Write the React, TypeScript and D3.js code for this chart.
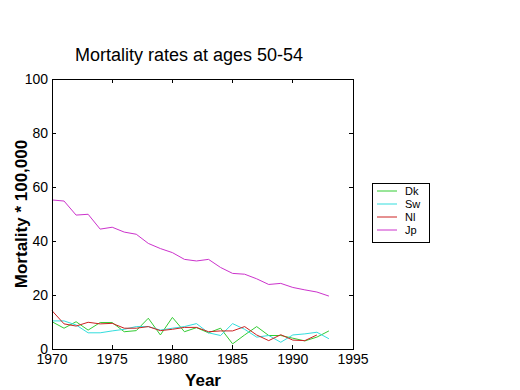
import * as d3 from 'd3';
import * as React from 'react';

// years 1970..1993
const years = d3.range(1970, 1994);

const dk = [10.1, 7.7, 10.1, 7.0, 9.8, 9.8, 6.4, 6.8, 11.4, 5.2, 11.7, 6.4, 7.9, 6.0, 7.7, 1.9, 5.2, 8.3, 5.0, 5.0, 4.0, 3.0, 4.4, 6.7];
const sw = [10.4, 10.4, 8.9, 6.0, 6.0, 6.7, 7.3, 8.3, 8.3, 7.0, 7.7, 8.3, 9.4, 6.0, 5.0, 9.4, 7.3, 4.4, 5.0, 2.5, 5.2, 5.6, 6.2, 3.8];
const nl = [14.2, 9.3, 8.5, 9.9, 9.3, 9.5, 7.7, 7.7, 8.3, 6.8, 7.3, 8.0, 8.0, 6.4, 6.7, 6.7, 8.3, 5.2, 3.1, 5.3, 3.3, 3.1, 5.2];
const jp = [55.2, 54.8, 49.6, 49.9, 44.4, 45.1, 43.3, 42.5, 39.1, 37.2, 35.7, 33.2, 32.6, 33.2, 30.2, 28.0, 27.7, 26.0, 23.9, 24.3, 22.8, 21.9, 21.1, 19.6];

const seriesNames = ['Dk', 'Sw', 'Nl', 'Jp'];
const seriesValues = [dk, sw, nl, jp];
const seriesColors = ['#33cc33', '#33dddd', '#cc2222', '#cc33cc'];

const xTicks = [1970, 1975, 1980, 1985, 1990, 1995];
const yTicks = [0, 20, 40, 60, 80, 100];

const FONT = 'Liberation Sans, Arial, sans-serif';

export default function App() {
  const width = 520;
  const height = 390;
  const left = 52, right = 353, top = 79, bottom = 349;

  const x = d3.scaleLinear().domain([1970, 1995]).range([left, right]);
  const y = d3.scaleLinear().domain([0, 100]).range([bottom, top]);

  const line = d3.line<number>()
    .x((_, i) => x(years[i]))
    .y((d) => y(d));

  const tick = 4;

  return (
    <svg width={width} height={height} style={{ position: 'absolute', left: 0, top: 0, background: '#fff' }}>
      <rect x={0} y={0} width={width} height={height} fill="#fff" />
      <text x={189} y={61} textAnchor="middle" fontFamily={FONT} fontSize={18}>Mortality rates at ages 50-54</text>

      {seriesValues.map((vals, i) => (
        <path key={i} d={line(vals) || ''} fill="none" stroke={seriesColors[i]} strokeWidth={1} />
      ))}

      <rect x={left} y={top} width={right - left} height={bottom - top} fill="none" stroke="#000" strokeWidth={1} shapeRendering="crispEdges" />

      {xTicks.map((t) => (
        <g key={t}>
          <line x1={x(t)} x2={x(t)} y1={bottom} y2={bottom - tick} stroke="#000" shapeRendering="crispEdges" />
          <line x1={x(t)} x2={x(t)} y1={top} y2={top + tick} stroke="#000" shapeRendering="crispEdges" />
          <text x={x(t)} y={bottom + 15} textAnchor="middle" fontFamily={FONT} fontSize={14}>{t}</text>
        </g>
      ))}
      {yTicks.map((t) => (
        <g key={t}>
          <line x1={left} x2={left + tick} y1={y(t)} y2={y(t)} stroke="#000" shapeRendering="crispEdges" />
          <line x1={right} x2={right - tick} y1={y(t)} y2={y(t)} stroke="#000" shapeRendering="crispEdges" />
          <text x={left - 4} y={y(t) + 5} textAnchor="end" fontFamily={FONT} fontSize={14}>{t}</text>
        </g>
      ))}

      <text x={203} y={386} textAnchor="middle" fontFamily={FONT} fontSize={17} fontWeight="bold">Year</text>
      <text transform={`translate(27,${(top + bottom) / 2}) rotate(-90)`} textAnchor="middle" fontFamily={FONT} fontSize={17} fontWeight="bold">Mortality * 100,000</text>

      <g>
        <rect x={372.5} y={183.5} width={57} height={59} fill="#fff" stroke="#000" strokeWidth={1} />
        {seriesNames.map((name, i) => (
          <g key={name}>
            <line x1={377} x2={397} y1={191 + i * 13} y2={191 + i * 13} stroke={seriesColors[i]} />
            <text x={405} y={195 + i * 13} fontFamily={FONT} fontSize={11}>{name}</text>
          </g>
        ))}
      </g>
    </svg>
  );
}
